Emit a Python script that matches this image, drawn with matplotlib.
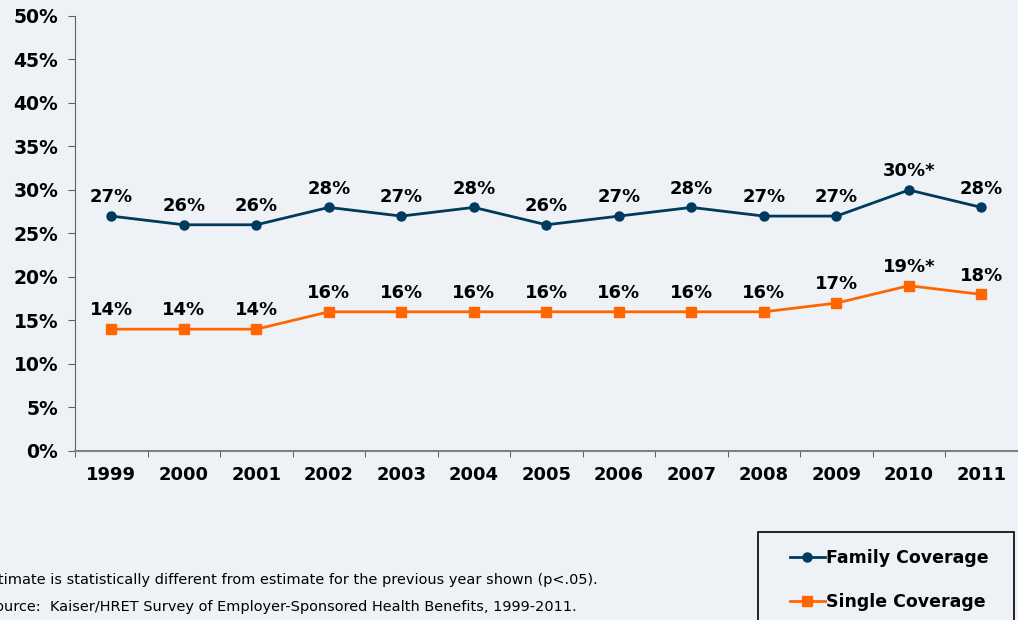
import matplotlib.pyplot as plt
import numpy as np
from matplotlib.patches import Rectangle

years = ["1999", "2000", "2001", "2002", "2003", "2004", "2005",
         "2006", "2007", "2008", "2009", "2010", "2011"]
family = [27, 26, 26, 28, 27, 28, 26, 27, 28, 27, 27, 30, 28]
single = [14, 14, 14, 16, 16, 16, 16, 16, 16, 16, 17, 19, 18]
family_lbl = ["27%", "26%", "26%", "28%", "27%", "28%", "26%", "27%", "28%", "27%", "27%", "30%*", "28%"]
single_lbl = ["14%", "14%", "14%", "16%", "16%", "16%", "16%", "16%", "16%", "16%", "17%", "19%*", "18%"]

bg = "#eef2f6"
navy = "#003a5d"
orange = "#ff6600"

plt.rcParams['font.family'] = ['DejaVu Sans']
fig = plt.figure(figsize=(10.18, 6.2), dpi=100, facecolor=bg)
ax = fig.add_axes([0.0737, 0.2726, 0.926, 0.7016])
ax.set_facecolor(bg)

x = np.arange(len(years))
ax.plot(x, family, color=navy, lw=2, marker="o", ms=6.5, label="Family Coverage")
ax.plot(x, single, color=orange, lw=2, marker="s", ms=7, label="Single Coverage")

for i in range(len(years)):
    ax.annotate(family_lbl[i], (x[i], family[i]), xytext=(0, 7), textcoords="offset points",
                ha="center", va="bottom", fontsize=13, fontweight="bold")
    ax.annotate(single_lbl[i], (x[i], single[i]), xytext=(0, 7), textcoords="offset points",
                ha="center", va="bottom", fontsize=13, fontweight="bold")

ax.set_xlim(-0.5, 12.5)
ax.set_ylim(0, 50)
ax.set_yticks(range(0, 51, 5))
ax.set_yticklabels([f"{v}%" for v in range(0, 51, 5)], fontsize=13.5, fontweight="bold")
ax.set_xticks(x)
ax.set_xticklabels(years, fontsize=13, fontweight="bold")
ax.set_xticks(np.arange(-0.5, 13, 1), minor=True)
ax.tick_params(axis="x", which="major", length=0, pad=11)
ax.tick_params(axis="x", which="minor", length=4, color="#404040", direction="out")
ax.tick_params(axis="y", length=5, color="#606060", pad=7)
for s in ["top", "right"]:
    ax.spines[s].set_visible(False)
ax.spines["left"].set_color("#606060")
ax.spines["bottom"].set_color("#808080")
ax.spines["bottom"].set_linewidth(1.5)

# legend box drawn by hand so the padding can match
fig.patches.append(Rectangle((758 / 1018, -0.02), 256 / 1018, 1 - 532 / 620 + 0.02,
                             transform=fig.transFigure, facecolor=bg, edgecolor="black",
                             lw=1.2, zorder=1))
leg = fig.legend(loc="upper left", bbox_to_anchor=(790 / 1018, 1 - 549 / 620), frameon=False,
                 handlelength=2.0, handletextpad=0.05, borderpad=0, borderaxespad=0,
                 labelspacing=1.5, prop={"weight": "bold", "size": 12.5})
leg.set_zorder(2)

fig.text(598 / 1018, 1 - 580 / 620,
         "*Estimate is statistically different from estimate for the previous year shown (p<.05).",
         fontsize=10.42, va="center", ha="right")
fig.text(577 / 1018, 1 - 607 / 620,
         "Source:  Kaiser/HRET Survey of Employer-Sponsored Health Benefits, 1999-2011.",
         fontsize=10.42, va="center", ha="right")

fig.savefig("out.png", dpi=100, facecolor=bg)
